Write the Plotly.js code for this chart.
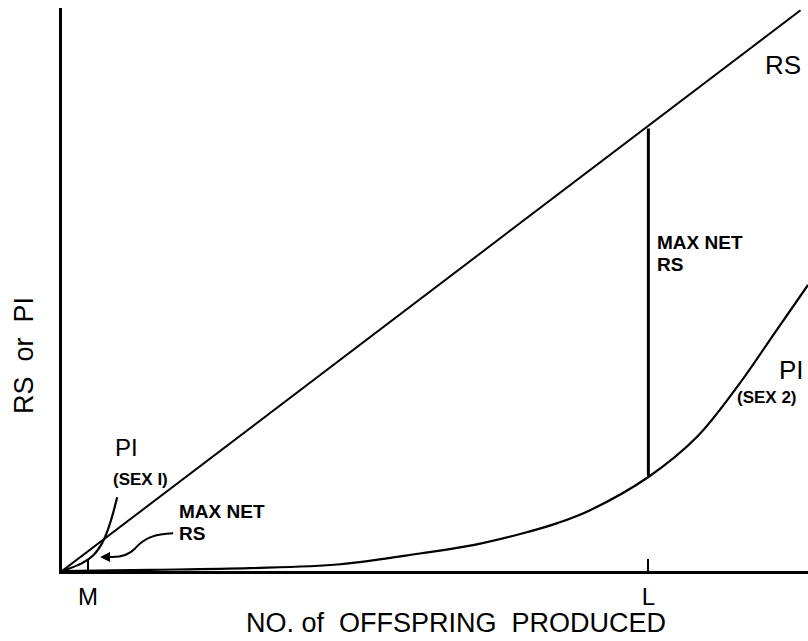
<!DOCTYPE html>
<html>
<head>
<meta charset="utf-8">
<script src="https://cdn.plot.ly/plotly-3.0.1.min.js"></script>
<style>html,body{margin:0;padding:0;background:#fff;}#chart{width:808px;height:641px;}</style>
</head>
<body>
<div id="chart"></div>
<script>
// Reproductive success (RS) line
const rsX = [0, 99];
const rsY = [0, 99.6];
// Parental investment curve, sex 2
const sex2X = [0, 11.8, 25.2, 37.3, 48.4, 55.1, 61.8, 66.4, 70.8, 78.6, 85.1, 90.5, 95.8, 100];
const sex2Y = [0, 0.2, 0.5, 1.2, 3.2, 4.6, 6.7, 8.5, 10.8, 16.7, 23.8, 32.7, 42.8, 50.8];
// Parental investment curve, sex 1
const sex1X = [0, 2.7, 4.2, 5.4, 6.0, 6.7, 7.4];
const sex1Y = [0, 1.4, 2.8, 5.0, 6.8, 9.6, 13.1];
// Max net RS at L (vertical segment)
const maxNetX = [78.6, 78.6];
const maxNetY = [16.9, 78.6];
// x tick positions / labels
const tickVals = [3.5, 78.6];
const tickText = ['M', 'L'];

const F = 'Liberation Sans, Arial, sans-serif';

const traces = [
  {x: rsX, y: rsY, mode: 'lines', line: {color: '#000', width: 2}, hoverinfo: 'skip'},
  {x: sex2X, y: sex2Y, mode: 'lines', line: {color: '#000', width: 2.2, shape: 'spline', smoothing: 1}, hoverinfo: 'skip'},
  {x: sex1X, y: sex1Y, mode: 'lines', line: {color: '#000', width: 2.2, shape: 'spline', smoothing: 1}, hoverinfo: 'skip'},
  {x: maxNetX, y: maxNetY, mode: 'lines', line: {color: '#000', width: 3}, hoverinfo: 'skip'}
];

function lbl(text, x, y, size, xanchor, opts) {
  return Object.assign({text: text, x: x, y: y, xref: 'x', yref: 'y', showarrow: false,
    xanchor: xanchor || 'center', yanchor: 'middle', borderpad: 0,
    font: {family: F, size: size, color: '#000'}}, opts || {});
}

const annotations = [
  lbl('RS', 96.6, 89.9, 26),
  lbl('<b>MAX NET</b>', 79.6, 58.3, 19, 'left'),
  lbl('<b>RS</b>', 79.6, 54.4, 19, 'left'),
  lbl('<b>MAX NET</b>', 15.6, 10.6, 19, 'left'),
  lbl('<b>RS</b>', 15.6, 6.7, 19, 'left'),
  lbl('PI', 8.6, 21.9, 24),
  lbl('<b>(SEX I)</b>', 6.7, 16.3, 17, 'left'),
  lbl('PI', 96.0, 35.7, 26, 'left'),
  lbl('<b>(SEX 2)</b>', 90.3, 30.8, 17, 'left'),
  {text: 'NO. of  OFFSPRING  PRODUCED', xref: 'paper', yref: 'paper', x: 0.528, y: -0.093,
   showarrow: false, xanchor: 'center', yanchor: 'middle', borderpad: 0, font: {family: F, size: 27, color: '#000'}},
  {text: 'RS  or  PI', xref: 'paper', yref: 'paper', x: -0.051, y: 0.3837, textangle: -90,
   showarrow: false, xanchor: 'center', yanchor: 'middle', font: {family: F, size: 27, color: '#000'}},
  // arrowhead of the lower MAX NET RS pointer
  {text: '', x: 5.1, y: 2.5, xref: 'x', yref: 'y', showarrow: true, arrowhead: 2, arrowsize: 1,
   arrowwidth: 2, arrowcolor: '#000', ax: 14, ay: 0}
];

const layout = {
  width: 808, height: 641,
  margin: {l: 62, r: 0, t: 8, b: 70},
  paper_bgcolor: '#fff', plot_bgcolor: '#fff',
  showlegend: false,
  xaxis: {range: [0, 100], showline: true, linewidth: 3, linecolor: '#000', showgrid: false, zeroline: false,
          tickmode: 'array', tickvals: tickVals, ticktext: tickText, ticks: 'inside', ticklen: 12,
          tickwidth: 2, tickcolor: '#000', tickfont: {family: F, size: 24, color: '#000'},
          ticklabelstandoff: 2, fixedrange: true},
  yaxis: {range: [0, 100], showline: true, linewidth: 3, linecolor: '#000', showgrid: false, zeroline: false,
          showticklabels: false, ticks: '', fixedrange: true},
  shapes: [
    {type: 'path', xref: 'x', yref: 'y', path: 'M 14.9,6.7 C 12.5,6.6 11,5.9 9.8,4.0 C 8.8,2.6 7.5,2.4 6.3,2.5',
     line: {color: '#000', width: 2}}
  ],
  annotations: annotations
};

Plotly.newPlot('chart', traces, layout, {displayModeBar: false, staticPlot: true});
</script>
</body>
</html>
